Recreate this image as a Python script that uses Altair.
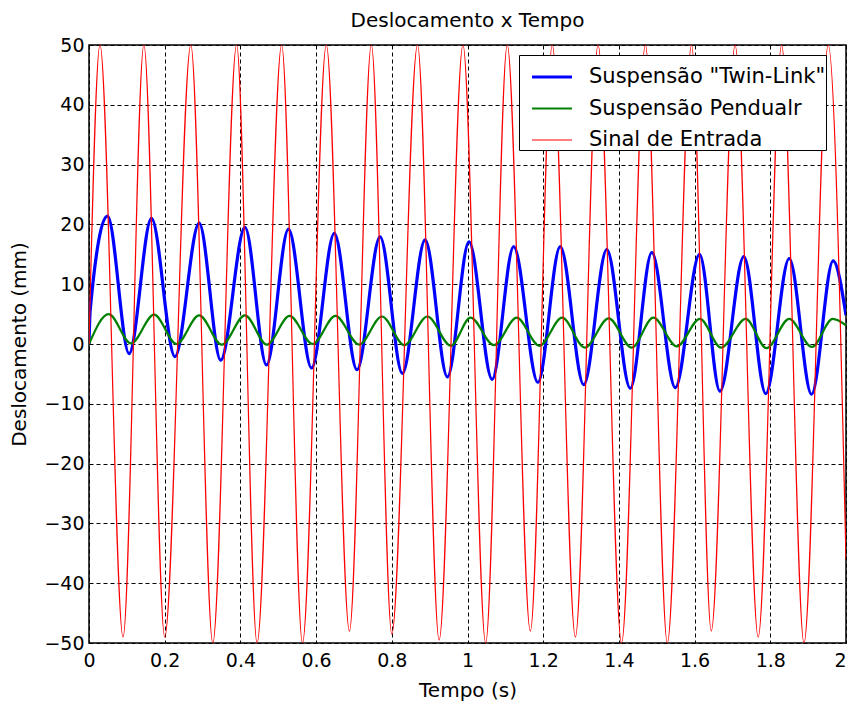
import altair as alt
import pandas as pd

# ---- data ----
twin_t = [0, 0.003, 0.049, 0.106, 0.165, 0.227, 0.291, 0.348, 0.412, 0.469, 0.527, 0.588,
          0.648, 0.708, 0.769, 0.828, 0.888, 0.947, 1.004, 1.065, 1.122, 1.186, 1.245,
          1.307, 1.368, 1.43, 1.487, 1.549, 1.613, 1.667, 1.730, 1.788, 1.850, 1.909,
          1.966, 2.0]
twin_y = [0, 5.5, 21.4, -1.6, 21.0, -2.1, 20.2, -2.7, 19.5, -3.5, 19.2, -4.0,
          18.5, -4.3, 17.9, -4.9, 17.4, -5.5, 17.1, -5.9, 16.3, -6.4, 16.3,
          -6.8, 15.8, -7.4, 15.3, -7.3, 15.0, -7.9, 14.6, -8.3, 14.3, -8.4,
          13.9, 4.8]

pend_t = [0, 0.052, 0.111, 0.172, 0.231, 0.291, 0.351, 0.412, 0.47, 0.53, 0.591, 0.651,
          0.714, 0.774, 0.833, 0.894, 0.956, 1.008, 1.07, 1.13, 1.19, 1.25, 1.31,
          1.373, 1.434, 1.491, 1.553, 1.614, 1.67, 1.735, 1.79, 1.85, 1.91, 1.965, 2.0]
pend_y = [0, 5.0, 0.1, 4.9, 0.0, 4.8, -0.1, 4.8, -0.1, 4.7, 0.0, 4.7,
          -0.1, 4.6, -0.2, 4.6, -0.3, 4.4, -0.2, 4.4, -0.3, 4.4, -0.6,
          4.3, -0.6, 4.4, -0.4, 4.2, -0.6, 4.2, -0.7, 4.2, -0.5, 4.2, 3.1]

input_t = [0, 0.029, 0.09, 0.145, 0.20, 0.269, 0.327, 0.39, 0.444, 0.509, 0.564, 0.627,
           0.688, 0.746, 0.80, 0.868, 0.925, 0.988, 1.048, 1.105, 1.166, 1.224, 1.285,
           1.345, 1.407, 1.47, 1.528, 1.592, 1.644, 1.707, 1.768, 1.83, 1.889, 1.953, 2.0]
input_y = [0, 50, -49, 50, -49, 50, -50, 50, -50, 50, -50, 50,
           -48, 50, -48.5, 50, -49.5, 50, -50, 50, -48, 50, -49,
           50, -50, 50, -50, 50, -48, 50, -49, 50, -50, 50, -36]

series_names = ['Suspensão "Twin-Link"', 'Suspensão Pendualr', 'Sinal de Entrada']
series_colors = ["#0000ff", "#008000", "#ff0000"]
series_widths = [3.2, 2.2, 1.2]

x_ticks = [0, 0.2, 0.4, 0.6, 0.8, 1, 1.2, 1.4, 1.6, 1.8, 2]
y_ticks = [-50, -40, -30, -20, -10, 0, 10, 20, 30, 40, 50]

frames = []
for i, (tt, yy) in enumerate([(twin_t, twin_y), (pend_t, pend_y), (input_t, input_y)]):
    frames.append(pd.DataFrame({"t": tt, "y": yy, "serie": series_names[i], "ordem": i}))
df = pd.concat(frames, ignore_index=True)

FONT = "DejaVu Sans"
LEGEND_LABEL = "datum.label + '\u00a0\u00a0\u00a0\u00a0'"

base = alt.Chart(df).mark_line(interpolate="monotone", clip=True).encode(
    x=alt.X("t:Q", title="Tempo (s)",
            scale=alt.Scale(domain=[0, 2], nice=False, zero=False),
            axis=alt.Axis(values=x_ticks, format="~g",
                          labelAlign=alt.condition("datum.value == 2",
                                                   alt.value("right"), alt.value("center")))),
    y=alt.Y("y:Q", title="Deslocamento (mm)",
            scale=alt.Scale(domain=[-50, 50], nice=False),
            axis=alt.Axis(values=y_ticks, format="d")),
    color=alt.Color("serie:N", title=None,
                    scale=alt.Scale(domain=series_names, range=series_colors),
                    legend=alt.Legend(labelExpr=LEGEND_LABEL)),
    strokeWidth=alt.StrokeWidth("serie:N", title=None,
                                scale=alt.Scale(type="ordinal", domain=series_names,
                                                range=series_widths),
                                legend=alt.Legend(labelExpr=LEGEND_LABEL)),
    order=alt.Order("t:Q"),
)

layers = [base.transform_filter(alt.datum.ordem == i) for i in range(3)]

chart = alt.layer(*layers).properties(
    width=757,
    height=598,
    title=alt.TitleParams("Deslocamento x Tempo", font=FONT, fontSize=20,
                          fontWeight="normal", color="black", anchor="middle", offset=5),
    autosize=alt.AutoSizeParams(type="none"),
    padding={"left": 81, "top": 37, "right": 1, "bottom": 59},
).configure_axis(
    grid=True, gridColor="black", gridDash=[4, 3], gridOpacity=1, gridWidth=1,
    domain=False, ticks=False,
    labelFont=FONT, labelFontSize=19, labelColor="black", labelPadding=5,
    titleFont=FONT, titleFontSize=20, titleFontWeight="normal", titleColor="black",
).configure_axisX(
    labelPadding=8, titlePadding=10,
).configure_axisY(
    titlePadding=14,
).configure_legend(
    orient="none", legendX=430, legendY=10,
    fillColor="white", strokeColor="black", padding=0,
    labelFont=FONT, labelFontSize=21, labelColor="black", labelOffset=15, labelLimit=0,
    symbolType="stroke", symbolSize=1600, symbolOffset=11, rowPadding=-14,
).configure_view(
    stroke="black", strokeWidth=1.5,
)

chart.save("out.html", embed_options={"renderer": "svg", "actions": False})
